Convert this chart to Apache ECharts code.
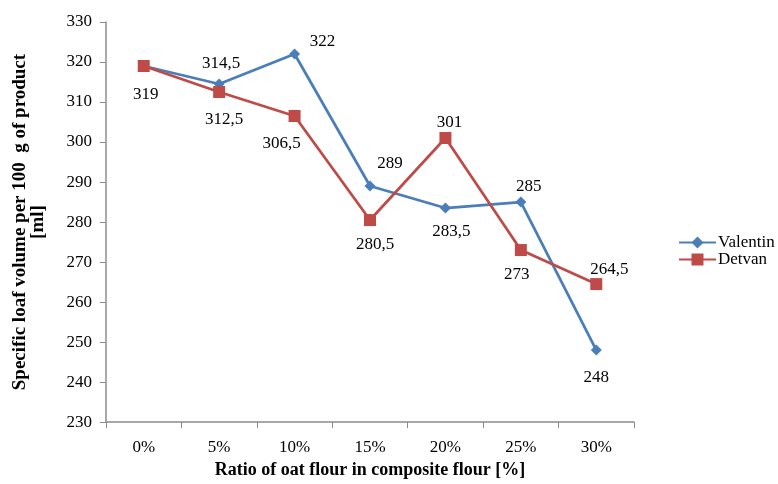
<!DOCTYPE html>
<html><head><meta charset="utf-8">
<script src="https://cdn.jsdelivr.net/npm/echarts@6/dist/echarts.min.js"></script>
<style>html,body{margin:0;padding:0;background:#fff}#c{width:778px;height:484px}</style>
</head><body><div id="c"></div>
<script>
const categories = ['0%','5%','10%','15%','20%','25%','30%'];
const valentin = [319, 314.5, 322, 289, 283.5, 285, 248];
const detvan = [319, 312.5, 306.5, 280.5, 301, 273, 264.5];
const yTicks = [230, 240, 250, 260, 270, 280, 290, 300, 310, 320, 330];

// label offsets (px, relative to the marker centre); null = no label
const valentinLabelOffsets = [null, [2,-20], [28,-12], [20,-23], [6,23], [8,-16], [0,27]];
const detvanLabelOffsets = [[2,29], [5,28], [-13,28], [5,24], [4,-15], [-4,24], [13,-15]];

const font = 'Liberation Serif';
const fmt = v => String(v).replace('.', ',');

function mkData(vals, offs) {
  return vals.map((v, i) => {
    const o = offs[i];
    if (!o) return { value: v, label: { show: false } };
    return { value: v, label: { show: true, position: 'inside', offset: o } };
  });
}

const chart = echarts.init(document.getElementById('c'));
chart.setOption({
  animation: false,
  textStyle: { fontFamily: font },
  grid: { left: 106, right: 144, top: 22, bottom: 61 },
  legend: {
    orient: 'vertical', left: 678, top: 234, itemGap: 0, padding: 0,
    itemWidth: 37, itemHeight: 15,
    textStyle: { fontFamily: font, fontSize: 17, color: '#000', padding: [0,0,0,-3] },
    data: ['Valentin', 'Detvan']
  },
  xAxis: {
    type: 'category', data: categories, boundaryGap: true,
    name: 'Ratio of oat flour in composite flour [%]', nameLocation: 'middle', nameGap: 37,
    nameTextStyle: { fontFamily: font, fontSize: 18, fontWeight: 'bold', color: '#000' },
    axisLine: { lineStyle: { color: '#8c8c8c', width: 1.5 } },
    axisTick: { show: true, length: 6, lineStyle: { color: '#8c8c8c' } },
    axisLabel: { fontFamily: font, fontSize: 17, color: '#000', margin: 17 },
    splitLine: { show: false }
  },
  yAxis: {
    type: 'value', min: yTicks[0], max: yTicks[yTicks.length-1], interval: 10,
    name: 'Specific loaf volume per 100  g of product\n[ml]', nameLocation: 'middle', nameGap: 59,
    nameTextStyle: { fontFamily: font, fontSize: 19, fontWeight: 'bold', color: '#000', lineHeight: 18 },
    axisLine: { show: true, lineStyle: { color: '#8c8c8c', width: 1.5 } },
    axisTick: { show: true, length: 6, lineStyle: { color: '#8c8c8c' } },
    axisLabel: { fontFamily: font, fontSize: 17, color: '#000', margin: 14 },
    splitLine: { show: false }
  },
  series: [
    {
      name: 'Valentin', type: 'line', data: mkData(valentin, valentinLabelOffsets),
      symbol: 'diamond', symbolSize: 11,
      lineStyle: { color: '#4a7ebb', width: 2.75 },
      itemStyle: { color: '#4a7ebb' },
      label: { fontFamily: font, fontSize: 17, color: '#000', formatter: p => fmt(p.value) },
      z: 3
    },
    {
      name: 'Detvan', type: 'line', data: mkData(detvan, detvanLabelOffsets),
      symbol: 'rect', symbolSize: 12,
      lineStyle: { color: '#be4b48', width: 2.75 },
      itemStyle: { color: '#be4b48' },
      label: { fontFamily: font, fontSize: 17, color: '#000', formatter: p => fmt(p.value) },
      z: 4
    }
  ]
});
</script>
</body></html>
